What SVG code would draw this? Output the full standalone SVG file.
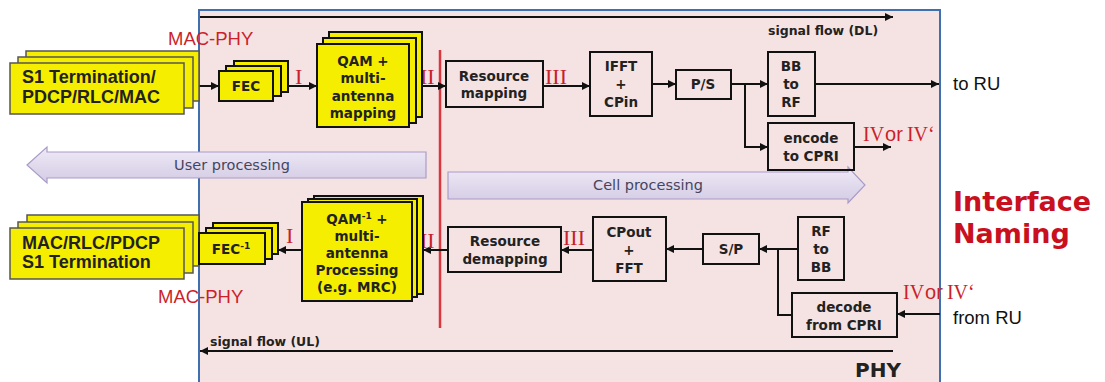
<svg xmlns="http://www.w3.org/2000/svg" width="1105" height="382" viewBox="0 0 1105 382">
<defs>
<marker id="ah" viewBox="0 0 10 10" refX="10" refY="5" markerWidth="9" markerHeight="8" markerUnits="userSpaceOnUse" orient="auto">
<path d="M0,0 L10,5 L0,10 z" fill="#111"/>
</marker>
<linearGradient id="lav" x1="0" y1="0" x2="0" y2="1">
<stop offset="0" stop-color="#efeaf6"/>
<stop offset="1" stop-color="#d3cbe4"/>
</linearGradient>
<style>
.ylw{fill:#f6ee00;stroke:#111;stroke-width:2}
.ylw2{fill:#f6ee00;stroke:#555;stroke-width:1.5}
.blk{fill:none;stroke:#111;stroke-width:2}
.bt{font-family:"DejaVu Sans",Verdana,sans-serif;font-weight:bold;font-size:13.5px;fill:#222;text-anchor:middle}
.big{font-family:"Liberation Sans",Arial,sans-serif;font-weight:bold;font-size:18px;fill:#222}
.red{font-family:"Liberation Serif","Times New Roman",serif;font-size:22px;fill:#c8202a}
.mp{font-family:"Liberation Sans",Arial,sans-serif;font-size:18.5px;fill:#cc1f2a}
.ru{font-family:"Liberation Sans",Arial,sans-serif;font-size:18.5px;fill:#111}
.sf{font-family:"DejaVu Sans",Verdana,sans-serif;font-weight:bold;font-size:12.5px;fill:#222}
.proc{font-family:"DejaVu Sans",Verdana,sans-serif;font-size:14.5px;fill:#45455f;text-anchor:middle}
.conn{fill:none;stroke:#111;stroke-width:2}
.arr{fill:url(#lav);stroke:#a99cc8;stroke-width:1.2}
.inam{font-family:"DejaVu Sans",Verdana,sans-serif;font-weight:bold;font-size:27px;fill:#c8101e}
</style>
</defs>
<rect width="1105" height="382" fill="#ffffff"/>
<g id="phy">
<rect x="199" y="10" width="741" height="380" fill="#f5e3e3" stroke="#3f6fae" stroke-width="2"/>
<text x="855" y="377" font-family="DejaVu Sans,Verdana,sans-serif" font-weight="bold" font-size="20" fill="#222">PHY</text>
</g>
<g id="interface-naming">
<text class="inam" x="953" y="211">Interface</text>
<text class="inam" x="953" y="243">Naming</text>
</g>
<g id="red-divider">
<line x1="440" y1="50" x2="440" y2="328" stroke="#d9363e" stroke-width="2.5"/>
</g>
<g id="user-processing">
<polygon class="arr" points="27,165 47,147 47,152 426,152 426,178 47,178 47,183"/>
<text class="proc" x="232" y="170">User processing</text>
</g>
<g id="cell-processing">
<polygon class="arr" points="448,172 848,172 848,167 865,185 848,203 848,199 448,199"/>
<text class="proc" x="648" y="190">Cell processing</text>
</g>
<g id="connectors">
<line class="conn" x1="200" y1="17" x2="893" y2="17" marker-end="url(#ah)"/>
<line class="conn" x1="893" y1="351" x2="200" y2="351" marker-end="url(#ah)"/>
<line class="conn" x1="184" y1="86" x2="219" y2="86" marker-end="url(#ah)"/>
<line class="conn" x1="288" y1="86" x2="317" y2="86" marker-end="url(#ah)"/>
<line class="conn" x1="422" y1="86" x2="446" y2="86" marker-end="url(#ah)"/>
<line class="conn" x1="543" y1="86" x2="590" y2="86" marker-end="url(#ah)"/>
<line class="conn" x1="652" y1="84" x2="676" y2="84" marker-end="url(#ah)"/>
<line class="conn" x1="731" y1="84" x2="768" y2="84" marker-end="url(#ah)"/>
<path class="conn" d="M745,84 V147 H768" marker-end="url(#ah)"/>
<line class="conn" x1="815" y1="84" x2="939" y2="84" marker-end="url(#ah)"/>
<line class="conn" x1="854" y1="147" x2="891" y2="147" marker-end="url(#ah)"/>
<line class="conn" x1="199" y1="248" x2="184" y2="248" marker-end="url(#ah)"/>
<line class="conn" x1="302" y1="250" x2="278" y2="250" marker-end="url(#ah)"/>
<line class="conn" x1="448" y1="250" x2="423" y2="250" marker-end="url(#ah)"/>
<line class="conn" x1="593" y1="250" x2="561" y2="250" marker-end="url(#ah)"/>
<line class="conn" x1="703" y1="249" x2="666" y2="249" marker-end="url(#ah)"/>
<line class="conn" x1="798" y1="249" x2="759" y2="249" marker-end="url(#ah)"/>
<path class="conn" d="M792,315 H778 V249"/>
<line class="conn" x1="940" y1="314" x2="897" y2="314" marker-end="url(#ah)"/>
</g>
<g id="labels">
<text class="sf" x="768" y="35">signal flow (DL)</text>
<text class="sf" x="210" y="346">signal flow (UL)</text>
<text class="mp" x="168" y="45">MAC-PHY</text>
<text class="mp" x="158" y="303">MAC-PHY</text>
<text class="red" x="295" y="84">I</text>
<text class="red" x="420" y="84">II</text>
<text class="red" x="545" y="84">III</text>
<text class="red" x="286" y="243">I</text>
<text class="red" x="420" y="248">II</text>
<text class="red" x="563" y="245">III</text>
<text x="863" y="141" fill="#cc1f2a" font-size="20"><tspan font-family="Liberation Serif,serif">IV</tspan><tspan font-family="Liberation Sans,sans-serif" dx="1">or</tspan><tspan font-family="Liberation Serif,serif" dx="4">IV‘</tspan></text>
<text x="903" y="299" fill="#cc1f2a" font-size="20"><tspan font-family="Liberation Serif,serif">IV</tspan><tspan font-family="Liberation Sans,sans-serif" dx="1">or</tspan><tspan font-family="Liberation Serif,serif" dx="4">IV‘</tspan></text>
<text class="ru" x="953" y="90">to RU</text>
<text class="ru" x="953" y="324">from RU</text>
</g>
<g id="s1-dl">
<rect class="ylw2" x="26" y="51" width="173" height="50"/>
<rect class="ylw2" x="18" y="57" width="175" height="51"/>
<rect class="ylw2" x="10" y="63" width="174" height="51"/>
<text class="big" x="22" y="83">S1 Termination/</text>
<text class="big" x="22" y="103">PDCP/RLC/MAC</text>
</g>
<g id="fec">
<rect class="ylw" x="234" y="61" width="54" height="31"/>
<rect class="ylw" x="226" y="66" width="55" height="30"/>
<rect class="ylw" x="219" y="71" width="54" height="30"/>
<text class="bt" x="246" y="91" font-size="12.5">FEC</text>
</g>
<g id="qam">
<rect class="ylw" x="329" y="32" width="93" height="85"/>
<rect class="ylw" x="323" y="38" width="93" height="85"/>
<rect class="ylw" x="317" y="44" width="92" height="83"/>
<text class="bt" x="363" y="66">QAM +</text>
<text class="bt" x="363" y="83">multi-</text>
<text class="bt" x="363" y="101">antenna</text>
<text class="bt" x="363" y="118">mapping</text>
</g>
<g id="resource-mapping">
<rect class="blk" x="446" y="61" width="97" height="46"/>
<text class="bt" x="494" y="81">Resource</text>
<text class="bt" x="494" y="98">mapping</text>
</g>
<g id="ifft">
<rect class="blk" x="590" y="52" width="62" height="64"/>
<text class="bt" x="621" y="71">IFFT</text>
<text class="bt" x="621" y="89">+</text>
<text class="bt" x="621" y="107">CPin</text>
</g>
<g id="ps">
<rect class="blk" x="676" y="70" width="55" height="29"/>
<text class="bt" x="703" y="89">P/S</text>
</g>
<g id="bb-rf">
<rect class="blk" x="768" y="52" width="47" height="64"/>
<text class="bt" x="791" y="71">BB</text>
<text class="bt" x="791" y="89">to</text>
<text class="bt" x="791" y="107">RF</text>
</g>
<g id="encode">
<rect class="blk" x="768" y="123" width="86" height="47"/>
<text class="bt" x="811" y="143">encode</text>
<text class="bt" x="811" y="161">to CPRI</text>
</g>
<g id="s1-ul">
<rect class="ylw2" x="27" y="215" width="172" height="51"/>
<rect class="ylw2" x="18" y="222" width="175" height="51"/>
<rect class="ylw2" x="10" y="228" width="174" height="51"/>
<text class="big" x="22" y="249">MAC/RLC/PDCP</text>
<text class="big" x="22" y="268">S1 Termination</text>
</g>
<g id="fec-inv">
<rect class="ylw" x="213" y="223" width="65" height="31"/>
<rect class="ylw" x="206" y="228" width="66" height="31"/>
<rect class="ylw" x="199" y="233" width="66" height="31"/>
<text class="bt" x="231" y="254" font-size="12.5">FEC<tspan font-size="9" dy="-5">-1</tspan></text>
</g>
<g id="qam-inv">
<rect class="ylw" x="314" y="196" width="109" height="98"/>
<rect class="ylw" x="308" y="199" width="109" height="98"/>
<rect class="ylw" x="302" y="202" width="110" height="99"/>
<text class="bt" x="357" y="224">QAM<tspan font-size="9" dy="-5">-1</tspan><tspan dy="5"> +</tspan></text>
<text class="bt" x="357" y="241">multi-</text>
<text class="bt" x="357" y="258">antenna</text>
<text class="bt" x="357" y="275">Processing</text>
<text class="bt" x="357" y="292">(e.g. MRC)</text>
</g>
<g id="resource-demapping">
<rect class="blk" x="448" y="227" width="113" height="45"/>
<text class="bt" x="505" y="246">Resource</text>
<text class="bt" x="505" y="264">demapping</text>
</g>
<g id="cpout">
<rect class="blk" x="593" y="217" width="73" height="64"/>
<text class="bt" x="629" y="237">CPout</text>
<text class="bt" x="629" y="255">+</text>
<text class="bt" x="629" y="273">FFT</text>
</g>
<g id="sp">
<rect class="blk" x="703" y="234" width="56" height="30"/>
<text class="bt" x="731" y="254">S/P</text>
</g>
<g id="rf-bb">
<rect class="blk" x="798" y="217" width="46" height="63"/>
<text class="bt" x="821" y="236">RF</text>
<text class="bt" x="821" y="254">to</text>
<text class="bt" x="821" y="272">BB</text>
</g>
<g id="decode">
<rect class="blk" x="792" y="293" width="105" height="44"/>
<text class="bt" x="844" y="312">decode</text>
<text class="bt" x="844" y="330">from CPRI</text>
</g>
</svg>
